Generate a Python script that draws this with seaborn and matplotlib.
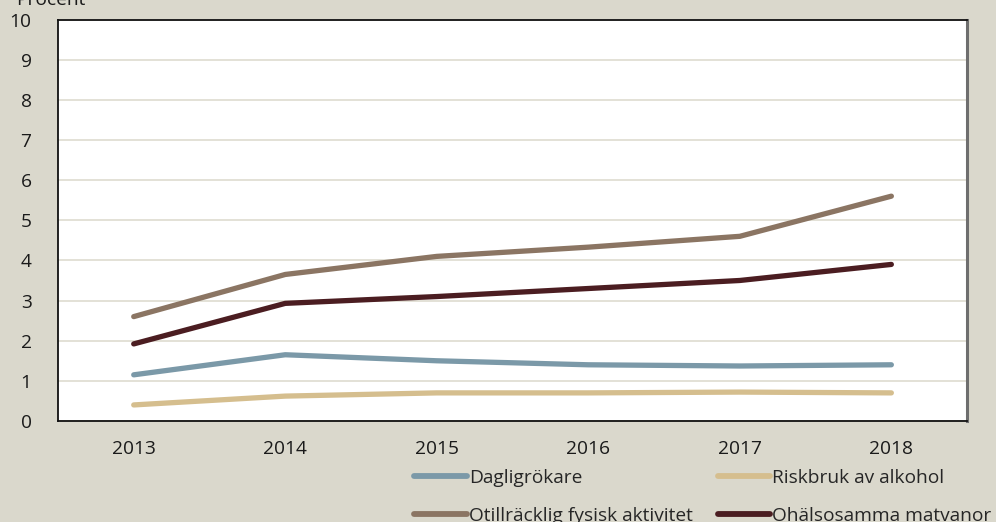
import matplotlib
matplotlib.use("Agg")
import matplotlib.pyplot as plt
import seaborn as sns
import pandas as pd
from matplotlib.lines import Line2D

years = ["2013", "2014", "2015", "2016", "2017", "2018"]
dagligrokare = [1.15, 1.65, 1.5, 1.4, 1.37, 1.4]
riskbruk = [0.4, 0.62, 0.7, 0.7, 0.72, 0.7]
otillracklig = [2.6, 3.65, 4.1, 4.33, 4.6, 5.6]
ohalsosamma = [1.92, 2.93, 3.1, 3.3, 3.5, 3.9]

series_names = ["Dagligrökare", "Riskbruk av alkohol",
                "Otillräcklig fysisk aktivitet", "Ohälsosamma matvanor"]
series_values = [dagligrokare, riskbruk, otillracklig, ohalsosamma]
colors = ["#7b99a8", "#d5be8e", "#8b7563", "#4b1d21"]
yticks = list(range(0, 11))

rows = []
for name, vals in zip(series_names, series_values):
    for i, (yr, v) in enumerate(zip(years, vals)):
        rows.append({"pos": i, "year": yr, "serie": name, "value": v})
df = pd.DataFrame(rows)

sns.set_theme(style="white")
bg = "#dad8cc"
plt.rcParams["font.family"] = ["Open Sans", "DejaVu Sans"]
fs = 13.8

fig = plt.figure(figsize=(9.96, 5.22), dpi=100, facecolor=bg)
ax = fig.add_axes([0.0582, 0.1935, 0.9128, 0.7691])
ax.set_facecolor("white")

sns.lineplot(data=df, x="pos", y="value", hue="serie", hue_order=series_names,
             palette=colors, linewidth=3.8, ax=ax, legend=False,
             solid_capstyle="round", solid_joinstyle="round")

ax.set_xlim(-0.5, len(years) - 0.5)
ax.set_ylim(0, 10)
ax.set_yticks(yticks)
ax.set_yticklabels([str(t) for t in yticks], fontsize=fs, color="#1a1a1a")
ax.yaxis.grid(True, color="#dedbd0", linewidth=1.2)
ax.set_axisbelow(True)
ax.tick_params(axis="y", length=0, pad=19)

# category labels centred, tick marks at the category boundaries
ax.set_xticks(range(len(years)))
ax.set_xticklabels(years, fontsize=fs, color="#1a1a1a")
ax.tick_params(axis="x", which="major", length=0, pad=14)
ax.set_xticks([i + 0.5 for i in range(len(years) - 1)], minor=True)
ax.tick_params(axis="x", which="minor", direction="in", length=6, width=1, color="#222222")
ax.set_xlabel("")
ax.set_ylabel("")

for side in ["left", "bottom", "top"]:
    ax.spines[side].set_color("#111111")
    ax.spines[side].set_linewidth(1.3)
ax.spines["right"].set_color("#6e6e6e")
ax.spines["right"].set_linewidth(2.2)

fig.text(0.016, 1.0, "Procent", fontsize=fs, color="#1a1a1a", ha="left", va="center")

# legend filled row by row: two entries per row
order = [0, 2, 1, 3]
handles = [Line2D([0], [0], color=colors[i], linewidth=4.2, solid_capstyle="round") for i in order]
labels = [series_names[i] for i in order]
fig.legend(handles, labels, loc="upper left", bbox_to_anchor=(0.416, 0.102),
           ncol=2, frameon=False, fontsize=fs, handlelength=2.75, handletextpad=0.1,
           columnspacing=1.3, labelspacing=1.05, borderaxespad=0, borderpad=0)

fig.savefig("out.png", dpi=100, facecolor=bg)
